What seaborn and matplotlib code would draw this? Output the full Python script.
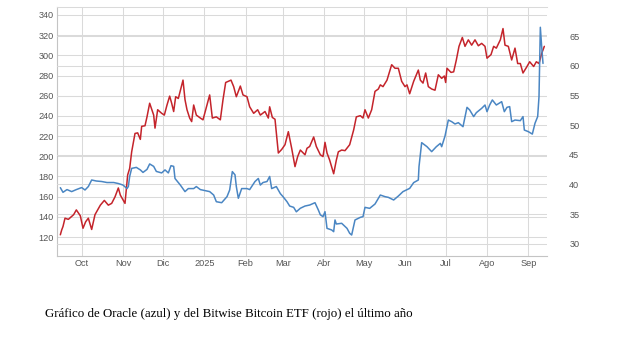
import numpy as np
import pandas as pd
import matplotlib
matplotlib.use("Agg")
import matplotlib.pyplot as plt
import seaborn as sns

# ---------------- data ----------------
inicio = "2024-10-01"

# Oracle (left axis, blue): days since 2024-10-01 and price
dias_oracle = [-16, -14, -11, -7.5, -4, 0, 2.5, 5, 7.5, 11, 15, 19, 24, 27.5,
               31, 34, 35, 36, 37.5, 41, 44, 46, 49, 51, 54, 56, 60,
               62.5, 65, 67, 69, 70, 74, 77.5, 80, 84, 86, 89,
               92.5, 96, 99, 101, 105, 109, 111, 113, 115, 116, 117.5, 120,
               124, 126, 130, 132.5, 134, 136, 139, 141, 142.5, 146, 149,
               151, 154, 156, 159, 161, 164, 167.5, 171, 175, 177.5, 179, 181,
               182.5, 184, 187.5, 189, 190, 191, 195, 199, 201, 202.5, 205, 209, 211,
               212.5, 216, 220, 224, 227.5, 230, 234, 237.5, 241,
               246, 249, 252.5, 253, 255, 259, 262.5, 266, 269, 270, 272.5,
               275, 277.5, 280, 282.5, 286, 289, 291, 294, 296, 300, 302.5,
               304, 306, 308, 311, 315, 317, 319, 321, 322.5, 325, 329, 331, 332,
               335, 338, 340, 342, 343, 344, 345, 346]
oracle = [168.9, 164.3, 167, 165, 167, 169, 166.6, 170, 176.5, 175.5, 175, 174, 174, 173,
          171.5, 168, 170, 180, 188, 189, 186.5, 184, 187, 192.4, 190, 185, 183.5,
          186.5, 183.5, 190.7, 190, 178, 171.5, 165, 168, 168, 170, 167,
          166, 165, 161.6, 155, 154, 160, 166.6, 184.8, 181.6, 170, 158.4, 168,
          168, 167, 175, 178, 171.5, 174, 175, 180, 168, 170, 163,
          160, 155, 150.7, 149.4, 145, 148.5, 150.7, 151.7, 154, 146.8, 142, 140.2,
          145.1, 128.6, 127, 125.3, 136.9, 132.9, 133.6, 128.6, 123.7, 122, 136.9, 139.5, 140.2,
          149.4, 148.4, 152.7, 161.6, 160, 159.3, 156.7, 160.6, 165,
          168.2, 173.9, 176.5, 189.7, 213.5, 209.5, 204.6, 209.5, 212.8, 209.5, 220,
          235.9, 234.3, 232, 233.3, 229.3, 248.5, 245.9, 239.3, 243.2, 247.5, 250.8,
          244.2, 250.8, 255.8, 250.8, 254.1, 244.2, 248.5, 249.2, 234.3, 235.9, 235.3, 239.3, 226,
          224.4, 222, 232.7, 239.3, 259, 327.8, 308.6, 292]

# Bitwise Bitcoin ETF (right axis, red)
dias_bitb = [-16, -15, -14, -12.5, -10, -7.5, -6, -4, -1, 1, 3, 5, 7.5, 10,
             14, 17, 20, 22.5, 25, 27.5, 29, 32.5, 34.5, 36, 37.5, 40, 42,
             44, 45, 47.5, 49, 51, 54, 55, 57, 60, 62, 64, 66, 67.5,
             69, 70.5, 72.5, 76, 77.5, 79, 81, 82.5, 84, 86, 89, 91,
             93, 96, 98, 101, 104, 106, 108, 112, 114, 116, 119, 121,
             124, 126, 129, 132, 134, 137.5, 140, 141, 143, 145, 147.5,
             150, 152.5, 155, 157.5, 160, 162, 164, 167.5, 169, 171, 174,
             176, 179, 181, 182.5, 184, 186, 189, 191, 192.5, 195, 197.5,
             201, 204, 206, 209, 211, 212.5, 215, 217.5, 220, 222.5, 224,
             226, 229, 232.5, 235, 237.5, 240, 242.5, 244, 246, 249,
             252.5, 254, 256, 258, 260, 262.5, 265, 267.5, 270, 272, 273,
             274, 277, 279, 281, 283, 285.5, 287.5, 290, 292.5, 295, 297.5,
             300, 302.5, 304, 307, 309, 311, 314, 316, 317.5, 320, 322.5,
             325, 327, 329, 331, 334, 336, 339, 341, 343, 345, 347]
bitb = [31.5, 32.3, 32.9, 34.3, 34.1, 34.6, 34.9, 35.7, 34.7, 32.6, 33.7, 34.3, 32.4, 34.9,
        36.5, 37.3, 36.5, 36.8, 37.9, 39.4, 38.2, 36.8, 41.6, 42.7, 45.5, 48.6, 48.7,
        47.6, 49.8, 49.9, 51.4, 53.7, 51.7, 49.5, 52.6, 52, 51.7, 53.4, 54.9, 53.7,
        52.3, 54.8, 54.5, 57.6, 54.3, 52.6, 51.2, 50.6, 53.4, 51.7, 51.2, 50.9,
        52.6, 55.1, 51.2, 51.4, 50.9, 54.3, 57.2, 57.6, 56.5, 54.8, 56.6, 55.1,
        54.8, 53.1, 52, 52.6, 51.7, 52.3, 51.2, 53.1, 51.3, 51, 45.3,
        45.9, 46.7, 48.9, 46.1, 43, 44.7, 45.8, 45, 46.1, 46.4, 48,
        46.4, 45, 44.7, 47.1, 45.3, 44.1, 41.8, 44.1, 45.5, 45.8, 45.7,
        46.7, 49.2, 51.4, 51.6, 51.2, 52.6, 51.2, 52.6, 55.7, 56.1, 56.8,
        56.5, 57.6, 60.2, 59.6, 59.6, 57.4, 56.5, 56.8, 55.3, 57.4,
        59.3, 57.6, 57.1, 58.8, 56.5, 56.1, 55.9, 58.5, 57.9, 58.3, 57.2,
        59.6, 58.9, 59, 61, 63.3, 64.8, 63.3, 64.4, 63.5, 64.4, 63.4,
        63.8, 63.3, 61.3, 61.9, 63.3, 63, 64.4, 66.3, 63.5, 63.3, 61,
        63, 60.4, 60.4, 58.8, 59.9, 60.7, 59.9, 60.7, 60.4, 62.1, 63.3]

meses = ["Oct", "Nov", "Dic", "2025", "Feb", "Mar", "Abr", "May", "Jun", "Jul", "Ago", "Sep"]
ticks_izq = [120, 140, 160, 180, 200, 220, 240, 260, 280, 300, 320, 340]
ticks_der = [30, 35, 40, 45, 50, 55, 60, 65]
titulo = "Gráfico de Oracle (azul) y del Bitwise Bitcoin ETF (rojo) el último año"

# ---------------- frames ----------------
t0 = pd.Timestamp(inicio)
df_oracle = pd.DataFrame({"fecha": t0 + pd.to_timedelta(np.array(dias_oracle) * 24, unit="h"),
                          "precio": oracle})
df_bitb = pd.DataFrame({"fecha": t0 + pd.to_timedelta(np.array(dias_bitb) * 24, unit="h"),
                        "precio": bitb})

# ---------------- style ----------------
sns.set_theme(style="white")
plt.rcParams["font.family"] = ["Liberation Sans", "DejaVu Sans"]

AZUL = "#4a86c3"
ROJO = "#c4242b"
GRID = "#dadada"
TXT = "#555555"

W, H = 623, 338
fig = plt.figure(figsize=(W / 100, H / 100), dpi=100)
fig.patch.set_facecolor("white")
ax = fig.add_axes([57 / W, 1 - 256 / H, 490 / W, 249 / H])
ax2 = ax.twinx()   # right scale + red line
ax3 = ax.twinx()   # left scale, blue line on top

ylim_izq = (101.2, 347.9)
ylim_der = (27.92, 69.94)

# grids
ax.set_axisbelow(True)
ax.grid(axis="both", color=GRID, linewidth=0.75)
ax2.set_axisbelow(True)
ax2.grid(axis="y", color=GRID, linewidth=0.75)

sns.lineplot(data=df_bitb, x="fecha", y="precio", ax=ax2, color=ROJO, linewidth=1.1)
sns.lineplot(data=df_oracle, x="fecha", y="precio", ax=ax3, color=AZUL, linewidth=1.1)

ax.set_xlim(t0 + pd.Timedelta(days=-18.5), t0 + pd.Timedelta(days=349))
ax.set_ylim(*ylim_izq)
ax3.set_ylim(*ylim_izq)
ax2.set_ylim(*ylim_der)

ax.set_xticks(pd.date_range(inicio, periods=len(meses), freq="MS"))
ax.set_xticklabels(meses)
ax.set_yticks(ticks_izq)
ax2.set_yticks(ticks_der)
ax3.set_yticks([])

for a in (ax, ax2, ax3):
    a.set_xlabel("")
    a.set_ylabel("")

ax.tick_params(axis="both", length=0, labelsize=6.6, labelcolor=TXT)
ax.tick_params(axis="y", pad=2.5)
ax.tick_params(axis="x", pad=2.5)
ax2.tick_params(axis="y", length=0, pad=16, labelsize=6.6, labelcolor=TXT)

for a in (ax2, ax3):
    for s in a.spines.values():
        s.set_visible(False)
ax.spines["right"].set_visible(False)
ax.spines["top"].set_color(GRID)
ax.spines["top"].set_linewidth(0.75)
for s in ("left", "bottom"):
    ax.spines[s].set_color("#c4c4c4")
    ax.spines[s].set_linewidth(0.8)

fig.text(45 / W, 1 - 314 / H, titulo, family=["Liberation Serif", "DejaVu Serif"],
         fontsize=9.3, color="black", ha="left", va="center")

fig.savefig("out.png", dpi=100, facecolor="white")
